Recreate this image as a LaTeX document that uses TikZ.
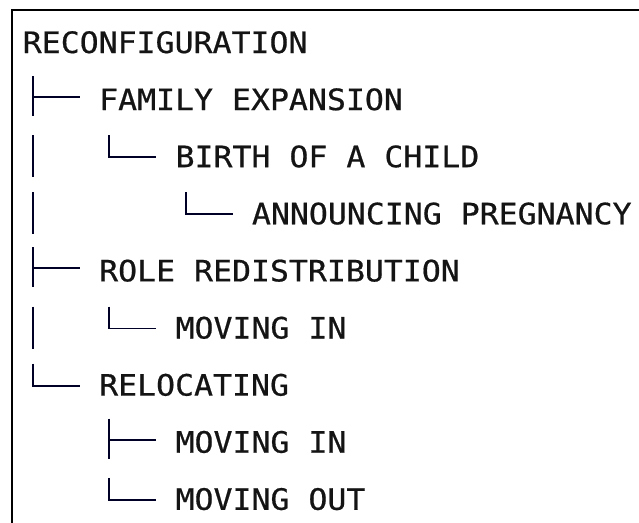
\documentclass[tikz,border=0pt]{standalone}
\usepackage{fontspec}
\setmonofont[FakeStretch=1.07,FakeBold=0.6]{DejaVu Sans Mono}
\usetikzlibrary{calc}

% tree glyphs drawn to the left of a child node
\newcommand{\branchtee}[1]{%
  \draw[twig] ($(#1.base west)+(-66,-34)$) -- ++(0,40);
  \draw[twig] ($(#1.base west)+(-66,-13)$) -- ++(47,0);}
\newcommand{\branchend}[1]{%
  \draw[twig] ($(#1.base west)+(-66,-32)$) |- ($(#1.base west)+(-19,-10)$);}
\newcommand{\branchpipe}[2]{%
  \draw[twig] ($(#1.base west -| #2.base west)+(-66,-32)$) -- ++(0,42);}

\begin{document}
\begin{tikzpicture}[
  x=0.75pt, y=-0.75pt,
  item/.style={anchor=base west,inner sep=0pt,text=black!92,
    font=\ttfamily\fontsize{22.1pt}{26pt}\selectfont},
  twig/.style={line width=1.45pt,draw=black!85!blue},
  frame/.style={line width=2.1pt}
]
\useasboundingbox (0,0) rectangle (639,522);
\draw[frame] (12,530) -- (12,10) -- (645,10);

\node[item] (root) at (22.5,53) {RECONFIGURATION};
\node[item] (fam) at (98.9,110.1) {FAMILY EXPANSION};
\node[item] (birth) at (175.3,167.2) {BIRTH OF A CHILD};
\node[item] (announce) at (251.7,224.3) {ANNOUNCING PREGNANCY};
\node[item] (role) at (98.9,281.4) {ROLE REDISTRIBUTION};
\node[item] (roleIn) at (175.3,338.5) {MOVING IN};
\node[item] (reloc) at (98.9,395.6) {RELOCATING};
\node[item] (relocIn) at (175.3,452.7) {MOVING IN};
\node[item] (relocOut) at (175.3,509.8) {MOVING OUT};

\branchtee{fam}
\branchpipe{birth}{fam}
\branchend{birth}
\branchpipe{announce}{fam}
\branchend{announce}
\branchtee{role}
\branchpipe{roleIn}{role}
\branchend{roleIn}
\branchend{reloc}
\branchtee{relocIn}
\branchend{relocOut}
\end{tikzpicture}
\end{document}
